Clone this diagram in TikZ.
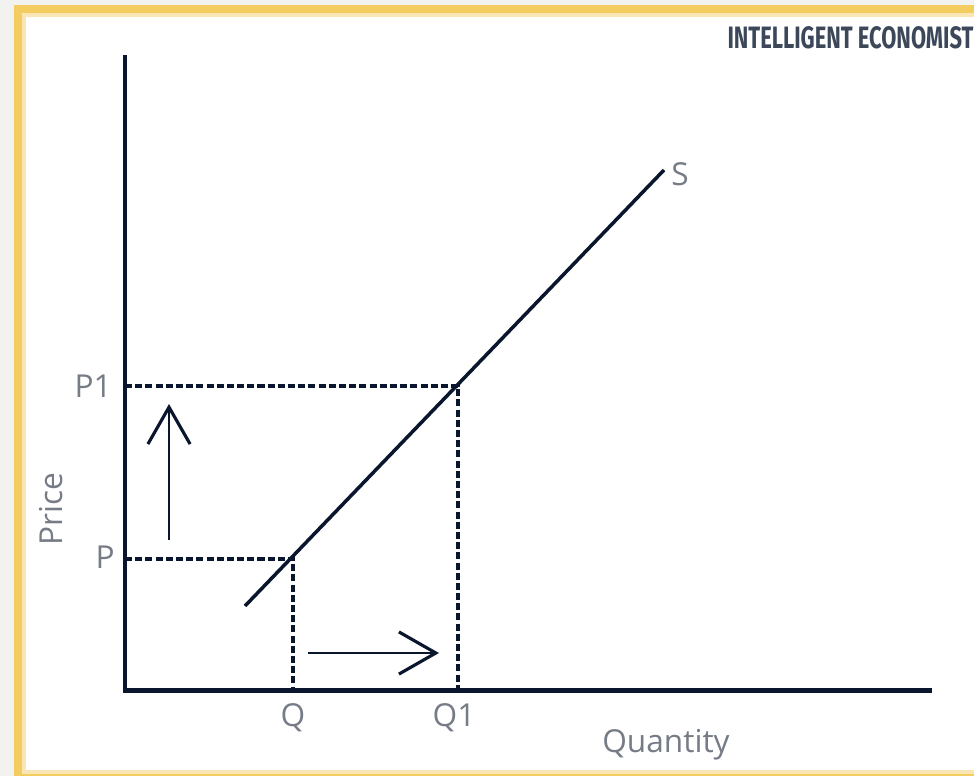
\documentclass[tikz,border=0pt]{standalone}
\usepackage{fontspec}
\setmainfont{Open Sans}
\newfontfamily\brandfont{Fira Sans}
\usetikzlibrary{arrows.meta, positioning, calc}
\definecolor{PageGray}{RGB}{242,242,241}
\definecolor{FrameGold}{RGB}{243,205,96}
\definecolor{FrameLight}{RGB}{250,229,181}
\definecolor{InkNavy}{RGB}{10,22,45}
\definecolor{LabelGray}{RGB}{118,124,134}
\definecolor{BrandSlate}{RGB}{60,72,90}
\tikzset{
  axisline/.style={line width=2.3pt,color=InkNavy,line join=miter},
  guideline/.style={line width=2pt,color=InkNavy,
    dash pattern=on 4pt off 1.8pt},
  supplyline/.style={line width=2pt,color=InkNavy},
  movearrow/.style={-{Straight Barb[length=21pt,width=24pt,line width=1.8pt]},
    line width=1.3pt,color=InkNavy},
  axislabel/.style={font=\fontsize{18}{21}\selectfont,text=LabelGray,inner sep=0pt},
  brandlabel/.style={font=\brandfont\bfseries,text=BrandSlate,inner sep=0pt}
}
\begin{document}
\begin{tikzpicture}[x=0.02cm,y=-0.02cm]
  % page and frame
  \useasboundingbox (0,0) rectangle (974,776);
  \clip (0,0) rectangle (974,776);
  \fill[PageGray] (0,0) rectangle (974,776);
  \fill[FrameGold] (14,5) rectangle (1000,800);
  \fill[FrameLight] (22,13) rectangle (990,774);
  \fill[white] (26,17) rectangle (990,770);
  % points
  \coordinate (O) at (125,690.5);
  \coordinate (ytop) at (125,55);
  \coordinate (xend) at (932,690.5);
  \coordinate (E0) at (293,559);
  \coordinate (E1) at (458,386);
  \coordinate (s0) at (245,606);
  \coordinate (s1) at (664,170);
  \coordinate (up0) at (169,540);
  \coordinate (up1) at (169,404);
  \coordinate (rt0) at (308,653);
  \coordinate (rt1) at (439,653);
  % labels
  \node[axislabel,anchor=east] (p1) at (112,386) {P1};
  \node[axislabel,anchor=east] (p) at (115,557) {P};
  \node[axislabel] (q) at (293,718) {Q};
  \node[axislabel] (q1) at (454,718) {Q1};
  \node[axislabel] (qty) at (666,745) {Quantity};
  \node[axislabel,rotate=90] (price) at (51,509) {Price};
  \node[axislabel] (s) at (680,174) {S};
  \node[brandlabel] (brand) at (850.5,38)
    {\resizebox{140pt}{12.5pt}{INTELLIGENT ECONOMIST}};
  % guides, curve, axes
  \foreach \pt in {E0,E1}
    \draw[guideline] (O |- \pt) -- (\pt) -- (\pt |- O);
  \draw[supplyline] (s0) -- (s1);
  \draw[axisline] (ytop) -- (O) -- (xend);
  \draw[movearrow] (up0) -- (up1);
  \draw[movearrow] (rt0) -- (rt1);
\end{tikzpicture}
\end{document}
